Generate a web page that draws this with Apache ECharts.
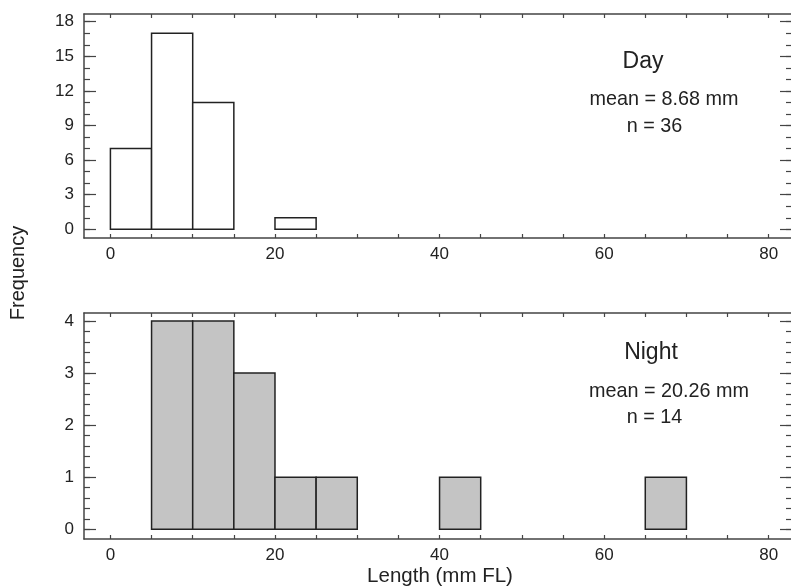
<!DOCTYPE html>
<html>
<head>
<meta charset="utf-8">
<script src="https://cdn.jsdelivr.net/npm/echarts@6/dist/echarts.min.js"></script>
<style>
html,body{margin:0;padding:0;background:#fff;}
#chart{width:791px;height:587px;}
</style>
</head>
<body>
<div id="chart"></div>
<script>
// ---- data ----
const binWidth = 5;
const dayBinStart = [0, 5, 10, 20];
const dayCounts = [7, 17, 11, 1];
const nightBinStart = [5, 10, 15, 20, 25, 40, 65];
const nightCounts = [4, 4, 3, 1, 1, 1, 1];
const xLabelValues = [0, 20, 40, 60, 80];
const xTickValues = [0, 5, 10, 15, 20, 25, 30, 35, 40, 45, 50, 55, 60, 65, 70, 75, 80];
const dayYLabels = [0, 3, 6, 9, 12, 15, 18];
const dayYMinor = [0,1,2,3,4,5,6,7,8,9,10,11,12,13,14,15,16,17,18];
const nightYLabels = [0, 1, 2, 3, 4];
const nightYMinor = [0,0.2,0.4,0.6,0.8,1,1.2,1.4,1.6,1.8,2,2.2,2.4,2.6,2.8,3,3.2,3.4,3.6,3.8,4];

const FONT = '"Liberation Sans", Arial, Helvetica, sans-serif';
const LINE = '#444';
const TXT = '#222';

const chart = echarts.init(document.getElementById('chart'), null, {renderer: 'canvas'});

const xMin = -3.21, xMax = 82.71;
const panels = [
  {top: 14, height: 224, yMin: -0.755, yMax: 18.67, labels: dayYLabels, minor: dayYMinor},
  {top: 313, height: 226, yMin: -0.186, yMax: 4.154, labels: nightYLabels, minor: nightYMinor}
];

const grids = [], xAxes = [], yAxes = [];
panels.forEach((p, g) => {
  grids.push({left: 84, top: p.top, width: 707, height: p.height, containLabel: false});
  xAxes.push({
    gridIndex: g, type: 'value', min: xMin, max: xMax, position: 'bottom',
    axisLine: {show: true, onZero: false, lineStyle: {color: LINE, width: 1.5}},
    axisTick: {show: true, inside: true, length: 4, customValues: xTickValues, lineStyle: {color: LINE, width: 1.2}},
    axisLabel: {show: true, customValues: xLabelValues, fontSize: 17, color: TXT, fontFamily: FONT, margin: 8},
    splitLine: {show: false}
  });
  xAxes.push({
    gridIndex: g, type: 'value', min: xMin, max: xMax, position: 'top',
    axisLine: {show: true, onZero: false, lineStyle: {color: LINE, width: 1.5}},
    axisTick: {show: true, inside: true, length: 4, customValues: xTickValues, lineStyle: {color: LINE, width: 1.2}},
    axisLabel: {show: false},
    splitLine: {show: false}
  });
  const yBase = {gridIndex: g, type: 'value', min: p.yMin, max: p.yMax, splitLine: {show: false}};
  yAxes.push(Object.assign({}, yBase, {
    position: 'left',
    axisLine: {show: true, onZero: false, lineStyle: {color: LINE, width: 1.5}},
    axisTick: {show: true, inside: true, length: 12, customValues: p.labels, lineStyle: {color: LINE, width: 1.2}},
    axisLabel: {show: true, customValues: p.labels, fontSize: 17, color: TXT, fontFamily: FONT, margin: 10}
  }));
  yAxes.push(Object.assign({}, yBase, {
    position: 'left',
    axisLine: {show: false, onZero: false},
    axisTick: {show: true, inside: true, length: 6, customValues: p.minor, lineStyle: {color: LINE, width: 1.2}},
    axisLabel: {show: false}
  }));
  yAxes.push(Object.assign({}, yBase, {
    position: 'right',
    axisLine: {show: false, onZero: false},
    axisTick: {show: true, inside: true, length: 11, customValues: p.labels, lineStyle: {color: LINE, width: 1.2}},
    axisLabel: {show: false}
  }));
  yAxes.push(Object.assign({}, yBase, {
    position: 'right',
    axisLine: {show: false, onZero: false},
    axisTick: {show: true, inside: true, length: 5, customValues: p.minor, lineStyle: {color: LINE, width: 1.2}},
    axisLabel: {show: false}
  }));
});

function histSeries(starts, counts, g, fill) {
  return {
    type: 'custom',
    xAxisIndex: g * 2,
    yAxisIndex: g * 4,
    data: starts.map((s, i) => [s, counts[i]]),
    encode: {x: 0, y: 1},
    clip: true,
    renderItem: function (params, api) {
      const x0 = api.value(0);
      const v = api.value(1);
      const p0 = api.coord([x0, 0]);
      const p1 = api.coord([x0 + binWidth, v]);
      return {
        type: 'rect',
        shape: {x: p0[0], y: p1[1], width: p1[0] - p0[0], height: p0[1] - p1[1]},
        style: {fill: fill, stroke: '#222', lineWidth: 1.5}
      };
    }
  };
}

function txt(text, x, y, size) {
  return {type: 'text', x: x, y: y, style: {text: text, fontSize: size, fontFamily: FONT, fill: TXT, align: 'center', verticalAlign: 'middle'}};
}

chart.setOption({
  animation: false,
  backgroundColor: '#fff',
  grid: grids,
  xAxis: xAxes,
  yAxis: yAxes,
  series: [
    histSeries(dayBinStart, dayCounts, 0, '#ffffff'),
    histSeries(nightBinStart, nightCounts, 1, '#c4c4c4')
  ],
  graphic: [
    txt('Day', 643, 62, 23),
    txt('mean = 8.68 mm', 664, 100, 19.8),
    txt('n = 36', 654.5, 127, 19.8),
    txt('Night', 651, 353, 23),
    txt('mean = 20.26 mm', 669, 392, 19.8),
    txt('n = 14', 654.5, 417.5, 19.8),
    {type: 'text', x: 18, y: 273, rotation: Math.PI / 2,
     style: {text: 'Frequency', fontSize: 20, fontFamily: FONT, fill: TXT, align: 'center', verticalAlign: 'middle'}},
    txt('Length (mm FL)', 440, 576, 20.5)
  ]
});
</script>
</body>
</html>
